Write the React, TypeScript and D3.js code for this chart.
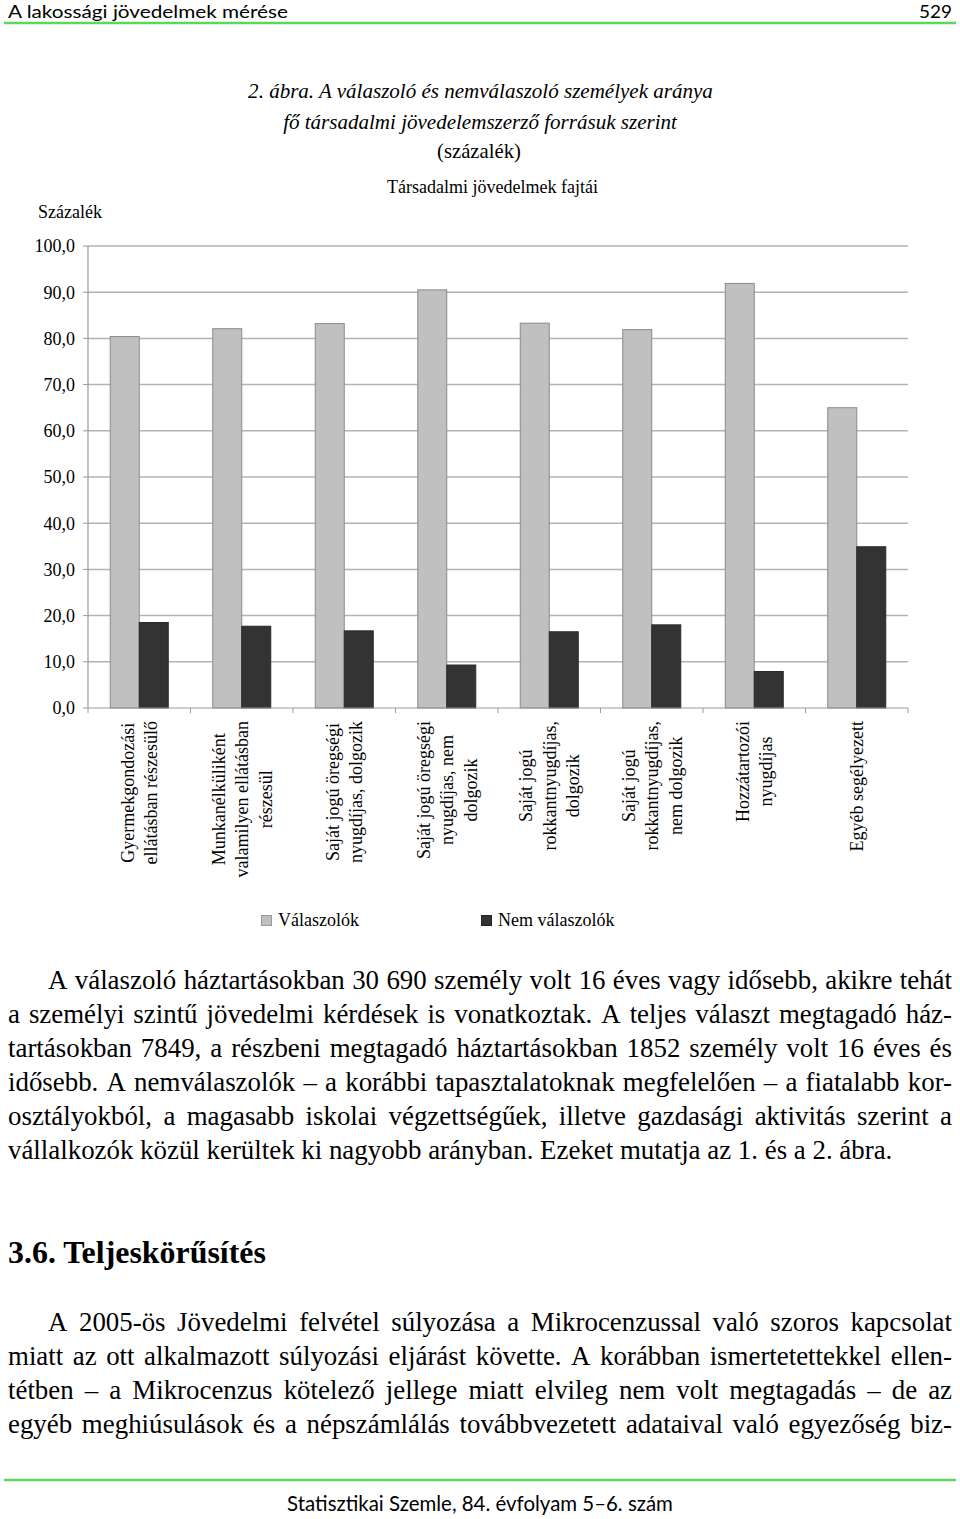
import React, { useEffect, useRef } from "react";
import * as d3 from "d3";

// ---- chart data ----
const categories = [
  "Gyermekgondozási|ellátásban részesülő",
  "Munkanélküliként|valamilyen ellátásban|részesül",
  "Saját jogú öregségi|nyugdíjas, dolgozik",
  "Saját jogú öregségi|nyugdíjas, nem|dolgozik",
  "Saját jogú|rokkantnyugdíjas,|dolgozik",
  "Saját jogú|rokkantnyugdíjas,|nem dolgozik",
  "Hozzátartozói|nyugdíjas",
  "Egyéb segélyezett",
];
const seriesNames = ["Válaszolók", "Nem válaszolók"];
const respondents = [80.4, 82.1, 83.2, 90.5, 83.3, 81.9, 91.9, 65.0];
const nonRespondents = [18.5, 17.7, 16.7, 9.3, 16.5, 18.0, 7.9, 34.9];
const yTicks = [0, 10, 20, 30, 40, 50, 60, 70, 80, 90, 100];

const titleLines = [
  "2. ábra. A válaszoló és nemválaszoló személyek aránya",
  "fő társadalmi jövedelemszerző forrásuk szerint",
  "(százalék)",
];
const subTitle = "Társadalmi jövedelmek fajtái";
const yAxisTitle = "Százalék";

const para1 = [
  "A válaszoló háztartásokban 30 690 személy volt 16 éves vagy idősebb, akikre tehát",
  "a személyi szintű jövedelmi kérdések is vonatkoztak. A teljes választ megtagadó ház-",
  "tartásokban 7849, a részbeni megtagadó háztartásokban 1852 személy volt 16 éves és",
  "idősebb. A nemválaszolók – a korábbi tapasztalatoknak megfelelően – a fiatalabb kor-",
  "osztályokból, a magasabb iskolai végzettségűek, illetve gazdasági aktivitás szerint a",
  "vállalkozók közül kerültek ki nagyobb arányban. Ezeket mutatja az 1. és a 2. ábra.",
];
const heading = "3.6. Teljeskörűsítés";
const para2 = [
  "A 2005-ös Jövedelmi felvétel súlyozása a Mikrocenzussal való szoros kapcsolat",
  "miatt az ott alkalmazott súlyozási eljárást követte. A korábban ismertetettekkel ellen-",
  "tétben – a Mikrocenzus kötelező jellege miatt elvileg nem volt megtagadás – de az",
  "egyéb meghiúsulások és a népszámlálás továbbvezetett adataival való egyezőség biz-",
];
const headerLeft = "A lakossági jövedelmek mérése";
const headerRight = "529";
const footerText = "Statisztikai Szemle, 84. évfolyam 5–6. szám";

const SERIF = "'Liberation Serif', 'Times New Roman', serif";
const SANS = "Lato, 'DejaVu Sans', sans-serif";

export default function App() {
  const ref = useRef<SVGSVGElement | null>(null);

  useEffect(() => {
    const svg = d3.select(ref.current);
    svg.selectAll("*").remove();

    const mkText = (x: number, y: number, txt: string, size: number, opts: any = {}) =>
      svg
        .append("text")
        .attr("x", x)
        .attr("y", y)
        .attr("font-family", opts.family || SERIF)
        .attr("font-size", size)
        .attr("font-style", opts.italic ? "italic" : "normal")
        .attr("font-weight", opts.bold ? "bold" : "normal")
        .attr("text-anchor", opts.anchor || "start")
        .attr("fill", "#000")
        .text(txt);

    const measure = (txt: string, size: number, opts: any = {}) => {
      const t = mkText(0, -100, txt, size, opts);
      const w = (t.node() as SVGTextElement).getComputedTextLength();
      t.remove();
      return w;
    };

    const fitText = (x: number, y: number, txt: string, width: number, opts: any = {}) => {
      const w = measure(txt, 100, opts);
      const size = (100 * width) / w;
      return mkText(x, y, txt, size, opts);
    };

    const squeezeText = (x: number, y: number, txt: string, size: number, width: number, opts: any = {}) =>
      mkText(x, y, txt, size, opts)
        .attr("textLength", width)
        .attr("lengthAdjust", "spacingAndGlyphs");

    const justify = (x: number, y: number, txt: string, size: number, width: number) => {
      const words = txt.split(" ");
      const ws = words.map((w) => measure(w, size));
      const total = d3.sum(ws);
      const gap = (width - total) / (words.length - 1);
      let cx = x;
      words.forEach((w, i) => {
        mkText(cx, y, w, size);
        cx += ws[i] + gap;
      });
    };

    // header / footer
    squeezeText(8, 18, headerLeft, 18, 280, { family: SANS });
    squeezeText(952, 18, headerRight, 18, 33, { family: SANS, anchor: "end" });
    svg.append("line").attr("x1", 4).attr("x2", 956).attr("y1", 23).attr("y2", 23)
      .attr("stroke", "#5cd65c").attr("stroke-width", 2.5);
    svg.append("line").attr("x1", 4).attr("x2", 956).attr("y1", 1480).attr("y2", 1480)
      .attr("stroke", "#5cd65c").attr("stroke-width", 2.5);
    fitText(480, 1511, footerText, 386, { family: SANS, anchor: "middle" });

    // titles
    fitText(480.5, 98, titleLines[0], 465, { italic: true, anchor: "middle" });
    fitText(480, 129, titleLines[1], 394, { italic: true, anchor: "middle" });
    fitText(479, 158, titleLines[2], 84, { anchor: "middle" });
    fitText(492.5, 193, subTitle, 211, { anchor: "middle" });
    fitText(38, 218, yAxisTitle, 64);

    // chart
    const left = 88, right = 908, top = 246, bottom = 708;
    const y = d3.scaleLinear().domain([0, 100]).range([bottom, top]);
    const x0 = d3.scaleBand<string>().domain(categories).range([left, right])
      .paddingInner(0.434).paddingOuter(0.217);
    const x1 = d3.scaleBand<string>().domain(seriesNames).range([0, x0.bandwidth()]);
    const step = x0.step();

    const g = svg.append("g");
    g.selectAll("line.grid").data(yTicks.filter((d) => d > 0)).join("line")
      .attr("x1", left).attr("x2", right)
      .attr("y1", (d) => y(d)).attr("y2", (d) => y(d))
      .attr("stroke", "#b3b3b3").attr("stroke-width", 1.5);

    const colors = ["#c0c0c0", "#333333"];
    const strokes = ["#8a8a8a", "#2a2a2a"];
    const values = [respondents, nonRespondents];
    seriesNames.forEach((s, si) => {
      g.selectAll(`rect.s${si}`).data(values[si]).join("rect")
        .attr("x", (_, i) => (x0(categories[i]) as number) + (x1(s) as number))
        .attr("y", (d) => y(d))
        .attr("width", x1.bandwidth())
        .attr("height", (d) => bottom - y(d))
        .attr("fill", colors[si])
        .attr("stroke", strokes[si]).attr("stroke-width", 1);
    });

    g.append("line").attr("x1", left).attr("x2", left).attr("y1", top).attr("y2", bottom)
      .attr("stroke", "#9a9a9a").attr("stroke-width", 1.2);
    g.append("line").attr("x1", left).attr("x2", right).attr("y1", bottom).attr("y2", bottom)
      .attr("stroke", "#9a9a9a").attr("stroke-width", 1.2);
    g.selectAll("line.ytick").data(yTicks).join("line")
      .attr("x1", left - 5).attr("x2", left)
      .attr("y1", (d) => y(d)).attr("y2", (d) => y(d))
      .attr("stroke", "#9a9a9a");
    g.selectAll("text.ylab").data(yTicks).join("text")
      .attr("x", 75).attr("y", (d) => y(d)).attr("dy", "0.35em")
      .attr("text-anchor", "end").attr("font-family", SERIF).attr("font-size", 18)
      .text((d) => d3.format(".1f")(d).replace(".", ","));
    g.selectAll("line.xtick").data(d3.range(categories.length + 1)).join("line")
      .attr("x1", (i) => left + i * step).attr("x2", (i) => left + i * step)
      .attr("y1", bottom).attr("y2", bottom + 5)
      .attr("stroke", "#9a9a9a");

    categories.forEach((c) => {
      const lines = c.split("|");
      const cx = (x0(c) as number) + x0.bandwidth() / 2;
      const ts = lines.map((ln) =>
        g.append("text").attr("font-family", SERIF).attr("font-size", 18)
          .attr("text-anchor", "middle").attr("dy", "0.35em").text(ln)
      );
      const maxW = d3.max(ts, (t) => (t.node() as SVGTextElement).getComputedTextLength()) || 0;
      const cy = 721 + maxW / 2;
      const n = lines.length;
      ts.forEach((t, i) => {
        const lx = cx + (i - (n - 1) / 2) * 23.5;
        t.attr("transform", `translate(${lx},${cy}) rotate(-90)`);
      });
    });

    // legend
    svg.append("rect").attr("x", 261.5).attr("y", 915.5).attr("width", 10).attr("height", 10)
      .attr("fill", colors[0]).attr("stroke", "#999");
    mkText(278, 926, seriesNames[0], 18);
    svg.append("rect").attr("x", 481.5).attr("y", 915.5).attr("width", 10).attr("height", 10)
      .attr("fill", colors[1]).attr("stroke", "#222");
    mkText(498, 926, seriesNames[1], 18);

    const bodySize = (100 * 885) / measure(para1[para1.length - 1], 100);

    para1.forEach((ln, i) => {
      const x = i === 0 ? 48 : 8;
      const yy = 989 + i * 34;
      if (i === para1.length - 1) mkText(x, yy, ln, bodySize);
      else justify(x, yy, ln, bodySize, 952 - x);
    });
    fitText(8, 1263, heading, 258, { bold: true });
    para2.forEach((ln, i) => {
      const x = i === 0 ? 48 : 8;
      justify(x, 1331 + i * 34, ln, bodySize, 952 - x);
    });
  }, []);

  return (
    <svg
      ref={ref}
      width={960}
      height={1519}
      style={{ position: "absolute", left: 0, top: 0, background: "#fff" }}
    />
  );
}
